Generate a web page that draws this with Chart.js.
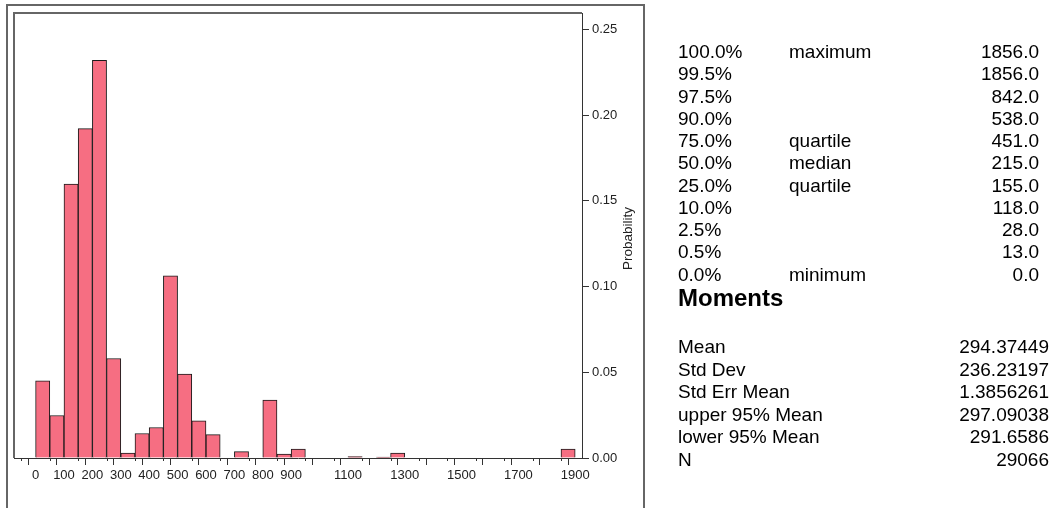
<!DOCTYPE html>
<html>
<head>
<meta charset="utf-8">
<script src="https://cdn.jsdelivr.net/npm/chart.js@4"></script>
<style>
  body { margin: 0; background: #fff; }
  #wrap { position: relative; width: 1055px; height: 508px; overflow: hidden; }
  #chart { position: absolute; left: 0; top: 0; }
  .txt { position: absolute; font-family: "Liberation Sans", Arial, sans-serif; font-size: 19px;
         line-height: 22px; color: #000; white-space: nowrap; }
  .hd { font-weight: bold; font-size: 24px; line-height: 28px; }
</style>
</head>
<body>
<div id="wrap">
  <canvas id="chart" width="1055" height="508"></canvas>
</div>
<script>
// Histogram bins (lower edge, width 50)
var binStarts = [0, 50, 100, 150, 200, 250, 300, 350, 400, 450, 500, 550, 600, 650, 700, 750,
    800, 850, 900, 950, 1000, 1050, 1100, 1150, 1200, 1250, 1300, 1350, 1400, 1450, 1500,
    1550, 1600, 1650, 1700, 1750, 1800, 1850];
var binWidth = 50;
var probability = [0.0450, 0.0248, 0.1597, 0.1921, 0.2319, 0.0580, 0.0029, 0.0143, 0.0178,
    0.1062, 0.0490, 0.0217, 0.0136, null, 0.0037, null, 0.0338, 0.0023, 0.0052, null, null,
    null, 0.0008, null, 0.0005, 0.0029, null, null, null, null, null, null, null, null, null,
    null, null, 0.0052];
var xLabels = [0, 100, 200, 300, 400, 500, 600, 700, 800, 900, 1100, 1300, 1500, 1700, 1900];
var yTicks = [0, 0.05, 0.10, 0.15, 0.20, 0.25];

// Quantiles
var quantileLevels = ['100.0%', '99.5%', '97.5%', '90.0%', '75.0%', '50.0%', '25.0%', '10.0%', '2.5%', '0.5%', '0.0%'];
var quantileNames = ['maximum', '', '', '', 'quartile', 'median', 'quartile', '', '', '', 'minimum'];
var quantileValues = ['1856.0', '1856.0', '842.0', '538.0', '451.0', '215.0', '155.0', '118.0', '28.0', '13.0', '0.0'];

// Moments
var momentNames = ['Mean', 'Std Dev', 'Std Err Mean', 'upper 95% Mean', 'lower 95% Mean', 'N'];
var momentValues = ['294.37449', '236.23197', '1.3856261', '297.09038', '291.6586', '29066'];

var FONT = '"Liberation Sans", Arial, sans-serif';

// Text panel
var wrap = document.getElementById('wrap');
function addText(text, css, cls) {
    let d = document.createElement('div');
    d.className = 'txt' + (cls ? ' ' + cls : '');
    d.textContent = text;
    Object.assign(d.style, css);
    wrap.appendChild(d);
}
quantileLevels.forEach(function(lvl, i) {
    let top = (41 + i * 22.25) + 'px';
    addText(lvl, { left: '678px', top: top });
    if ( quantileNames[i] ) {
        addText(quantileNames[i], { left: '789px', top: top });
    }
    addText(quantileValues[i], { right: (1055 - 1039) + 'px', top: top });
});
addText('Moments', { left: '678px', top: '284px' }, 'hd');
momentNames.forEach(function(name, i) {
    let top = (336 + i * 22.6) + 'px';
    addText(name, { left: '678px', top: top });
    addText(momentValues[i], { right: (1055 - 1049) + 'px', top: top });
});

// frames, minor ticks and the rotated axis title
var decorations = {
    id: 'decorations',
    beforeDraw: function(chart) {
        let ctx = chart.ctx;
        let area = chart.chartArea;
        ctx.save();
        ctx.strokeStyle = '#666';
        ctx.lineWidth = 2;
        ctx.strokeRect(7, 5, 637, 520);
        ctx.beginPath();
        ctx.moveTo(area.left, area.bottom);
        ctx.lineTo(area.left, area.top);
        ctx.lineTo(area.right, area.top);
        ctx.stroke();
        ctx.restore();
    },
    afterDraw: function(chart) {
        let ctx = chart.ctx;
        let xs = chart.scales.x;
        let area = chart.chartArea;
        ctx.save();
        ctx.strokeStyle = '#333';
        ctx.lineWidth = 1;
        xs.ticks.forEach(function(t) {
            if ( t.value % 100 !== 0 ) {
                let px = Math.round(xs.getPixelForValue(t.value)) + 0.5;
                ctx.beginPath();
                ctx.moveTo(px, area.bottom);
                ctx.lineTo(px, area.bottom + 3);
                ctx.stroke();
            }
        });
        ctx.fillStyle = '#222';
        ctx.font = '13.5px ' + FONT;
        ctx.textAlign = 'center';
        ctx.textBaseline = 'middle';
        ctx.translate(area.right + 46, (area.top + area.bottom) / 2 + 3);
        ctx.rotate(-Math.PI / 2);
        ctx.fillText('Probability', 0, 0);
        ctx.restore();
    }
};

var points = binStarts.map(function(b, i) {
    return { x: b + binWidth / 2, y: probability[i] };
});

new Chart(document.getElementById('chart').getContext('2d'), {
    type: 'bar',
    data: {
        datasets: [{
            data: points,
            backgroundColor: '#F66E82',
            borderColor: '#1a1a1a',
            borderWidth: 1,
            barPercentage: 1.0,
            categoryPercentage: 1.0
        }]
    },
    options: {
        responsive: false,
        animation: false,
        layout: { padding: { left: 14, top: 13, right: 423, bottom: 0 } },
        plugins: { legend: { display: false }, tooltip: { enabled: false } },
        scales: {
            x: {
                type: 'linear',
                offset: false,
                min: -76,
                max: 1924,
                afterFit: function(scale) { scale.height = 50; },
                afterBuildTicks: function(scale) {
                    let ticks = [];
                    for ( let v = -50; v <= 1900; v += binWidth ) {
                        ticks.push({ value: v });
                    }
                    scale.ticks = ticks;
                },
                border: { display: true, color: '#333', width: 1 },
                grid: {
                    drawOnChartArea: false,
                    tickLength: 7,
                    tickColor: function(ctx) {
                        return ctx.tick && ctx.tick.value % 100 === 0 ? '#333' : 'rgba(0,0,0,0)';
                    }
                },
                ticks: {
                    autoSkip: false,
                    maxRotation: 0,
                    padding: 3,
                    color: '#222',
                    font: { family: FONT, size: 13 },
                    callback: function(v) {
                        return xLabels.indexOf(v) >= 0 ? String(v) : '';
                    }
                }
            },
            y: {
                position: 'right',
                min: 0,
                max: 0.2595,
                afterFit: function(scale) { scale.width = 50; },
                border: { display: true, color: '#333', width: 1 },
                grid: { drawOnChartArea: false, tickLength: 7, tickColor: '#333' },
                afterBuildTicks: function(scale) {
                    scale.ticks = yTicks.map(function(v) { return { value: v }; });
                },
                ticks: {
                    padding: 3,
                    color: '#222',
                    font: { family: FONT, size: 13 },
                    callback: function(v) { return v.toFixed(2); }
                }
            }
        }
    },
    plugins: [decorations]
});
</script>
</body>
</html>
